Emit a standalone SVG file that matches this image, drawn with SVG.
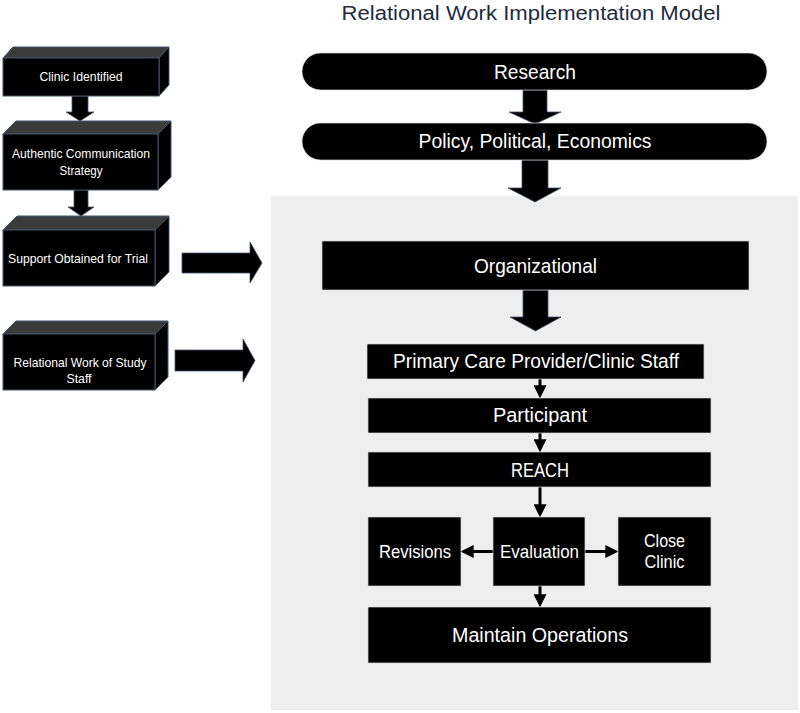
<svg xmlns="http://www.w3.org/2000/svg" width="800" height="713" viewBox="0 0 800 713">
<defs>
<style>
text{font-family:"Liberation Sans",Arial,sans-serif;fill:#fff;text-anchor:middle}
.title{fill:#1f2b3a;font-size:20px}
.sm{font-size:13px}
.md{font-size:20.5px}
.mdl{font-size:18px}
.box{fill:#000;stroke:#d8d8d8;stroke-width:0.7}
.front{fill:#000;stroke:#44546a;stroke-width:1}
.topf{fill:#3b3b3b;stroke:#44546a;stroke-width:1}
.side{fill:#000;stroke:#44546a;stroke-width:1}
.big{fill:#000;stroke:#44546a;stroke-width:0.8}
.thin{stroke:#000;stroke-width:3;fill:none;marker-end:url(#ah)}
</style>
<marker id="ah" viewBox="0 0 12 12" refX="8" refY="6" markerWidth="13" markerHeight="13" markerUnits="userSpaceOnUse" orient="auto">
<path d="M0,0 L12,6 L0,12 z" fill="#000"/>
</marker>
</defs>
<rect width="800" height="713" fill="#fff"/>
<rect id="panel" x="271" y="196" width="527" height="514" fill="#eeeeee"/>
<text class="title" x="531" y="20" textLength="379" lengthAdjust="spacingAndGlyphs">Relational Work Implementation Model</text>

<g id="connectors">
<polygon class="big" points="72,96 88,96 88,112 94,112 80,121 66,112 72,112"/>
<polygon class="big" points="74,190 88,190 88,207 94,207 81,216 68,207 74,207"/>
<polygon class="big" points="523,90 547,90 547,112 561,112 535,124 509,112 523,112"/>
<polygon class="big" points="522,160 548,160 548,188 561,188 535,202 508,188 522,188"/>
<polygon class="big" points="523,290 548,290 548,317 561,317 535.5,331 510,317 523,317"/>
<polygon class="big" points="182,253 250,253 250,242 262,263 250,283 250,273 182,273"/>
<polygon class="big" points="175,350 243,350 243,339 255,360.5 243,382 243,371 175,371"/>
<line class="thin" x1="540" y1="379" x2="540" y2="394"/>
<line class="thin" x1="540" y1="433" x2="540" y2="448"/>
<line class="thin" x1="540" y1="487" x2="540" y2="513"/>
<line class="thin" x1="540" y1="586" x2="540" y2="603"/>
<line class="thin" x1="493" y1="551.5" x2="465" y2="551.5"/>
<line class="thin" x1="585" y1="551.5" x2="614" y2="551.5"/>
</g>

<g id="clinic-identified">
<polygon class="topf" points="3,58 13,47 169,47 159,58"/>
<polygon class="side" points="159,58 169,47 169,85 159,96"/>
<rect class="front" x="3" y="58" width="156" height="38"/>
<text class="sm" x="81" y="81" textLength="83" lengthAdjust="spacingAndGlyphs">Clinic Identified</text>
</g>
<g id="authentic-communication">
<polygon class="topf" points="3,134 16,121 171,121 158,134"/>
<polygon class="side" points="158,134 171,121 171,177 158,190"/>
<rect class="front" x="3" y="134" width="155" height="56"/>
<text class="sm" x="81" y="158" textLength="138" lengthAdjust="spacingAndGlyphs">Authentic Communication</text>
<text class="sm" x="81" y="175" textLength="43" lengthAdjust="spacingAndGlyphs">Strategy</text>
</g>
<g id="support-obtained">
<polygon class="topf" points="3,230 17,216 169,216 155,230"/>
<polygon class="side" points="155,230 169,216 169,272 155,286"/>
<rect class="front" x="3" y="230" width="152" height="56"/>
<text class="sm" x="78" y="263" textLength="140" lengthAdjust="spacingAndGlyphs">Support Obtained for Trial</text>
</g>
<g id="relational-work-staff">
<polygon class="topf" points="3,334 16,321 168,321 155,334"/>
<polygon class="side" points="155,334 168,321 168,377 155,390"/>
<rect class="front" x="3" y="334" width="152" height="56"/>
<text class="sm" x="80" y="367" textLength="133" lengthAdjust="spacingAndGlyphs">Relational Work of Study</text>
<text class="sm" x="79" y="383" textLength="25" lengthAdjust="spacingAndGlyphs">Staff</text>
</g>

<g id="research">
<rect class="box" x="302" y="53" width="465" height="37" rx="18.5"/>
<text class="md" x="535" y="79" textLength="82" lengthAdjust="spacingAndGlyphs">Research</text>
</g>
<g id="policy">
<rect class="box" x="302" y="123" width="465" height="37" rx="18.5"/>
<text class="md" x="535" y="148" textLength="233" lengthAdjust="spacingAndGlyphs">Policy, Political, Economics</text>
</g>
<g id="organizational">
<rect class="box" x="322" y="241" width="427" height="49"/>
<text class="md" x="535.5" y="273" textLength="123" lengthAdjust="spacingAndGlyphs">Organizational</text>
</g>
<g id="primary-care">
<rect class="box" x="367" y="344" width="337" height="35"/>
<text class="md" x="536" y="368" textLength="286" lengthAdjust="spacingAndGlyphs">Primary Care Provider/Clinic Staff</text>
</g>
<g id="participant">
<rect class="box" x="368" y="398" width="343" height="35"/>
<text class="md" x="540" y="422" textLength="94" lengthAdjust="spacingAndGlyphs">Participant</text>
</g>
<g id="reach">
<rect class="box" x="368" y="452" width="343" height="35"/>
<text class="md" x="540" y="477" textLength="58" lengthAdjust="spacingAndGlyphs">REACH</text>
</g>
<g id="revisions">
<rect class="box" x="368" y="517" width="93" height="69"/>
<text class="mdl" x="415" y="558" textLength="72" lengthAdjust="spacingAndGlyphs">Revisions</text>
</g>
<g id="evaluation">
<rect class="box" x="493" y="517" width="92" height="69"/>
<text class="mdl" x="539.5" y="558" textLength="79" lengthAdjust="spacingAndGlyphs">Evaluation</text>
</g>
<g id="close-clinic">
<rect class="box" x="618" y="517" width="93" height="69"/>
<text class="mdl" x="664.5" y="547" textLength="41" lengthAdjust="spacingAndGlyphs">Close</text>
<text class="mdl" x="664.5" y="568" textLength="40" lengthAdjust="spacingAndGlyphs">Clinic</text>
</g>
<g id="maintain">
<rect class="box" x="368" y="607" width="343" height="56"/>
<text class="md" x="540" y="642" textLength="176" lengthAdjust="spacingAndGlyphs">Maintain Operations</text>
</g>
</svg>
